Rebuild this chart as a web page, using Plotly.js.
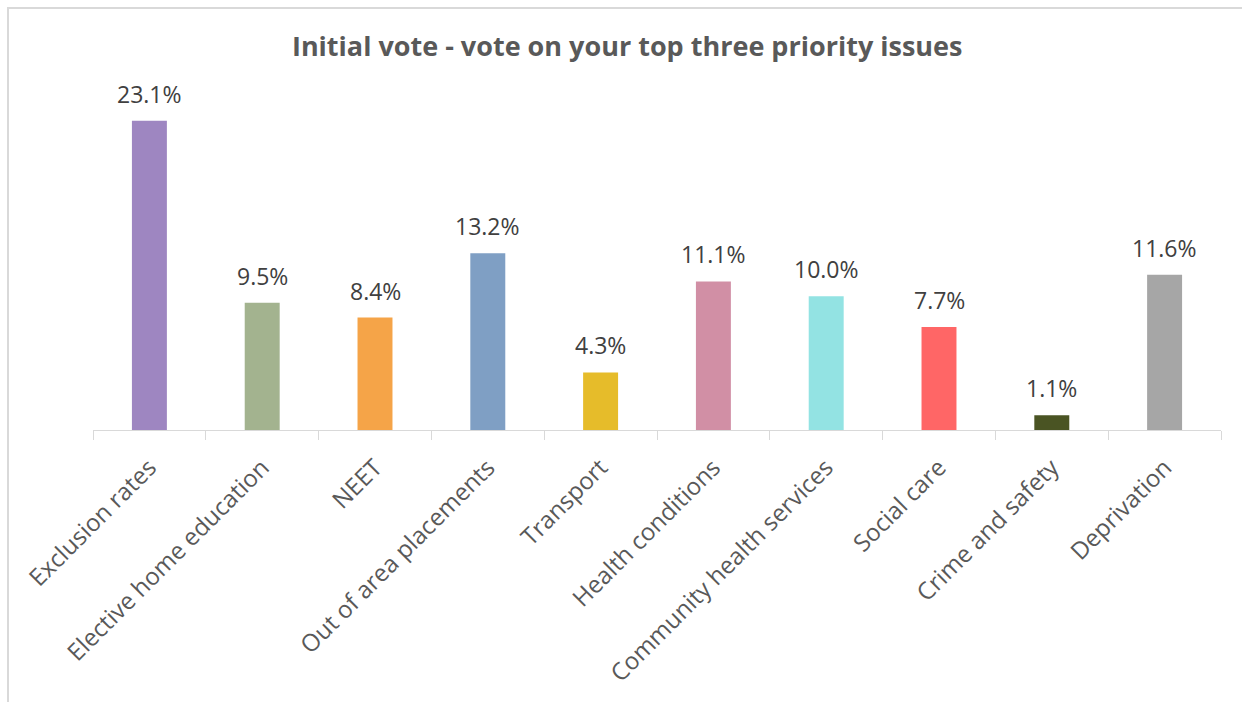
<!DOCTYPE html>
<html>
<head>
<meta charset="utf-8">
<script src="https://cdn.plot.ly/plotly-3.0.1.min.js"></script>
<style>
html,body{margin:0;padding:0;background:#fff;}
#chart{width:1242px;height:702px;}
#frame{position:absolute;left:7px;top:7px;width:1300px;height:800px;border-top:2px solid #d9d9d9;border-left:2px solid #d9d9d9;pointer-events:none;}
</style>
</head>
<body>
<div id="chart"></div>
<div id="frame"></div>
<script>
const categories = ["Exclusion rates","Elective home education","NEET","Out of area placements","Transport","Health conditions","Community health services","Social care","Crime and safety","Deprivation"];
const values = [23.1, 9.5, 8.4, 13.2, 4.3, 11.1, 10.0, 7.7, 1.1, 11.6];
const colors = ["#9E86C1","#A3B38F","#F5A448","#7F9FC4","#E6BC2A","#D18FA5","#93E3E3","#FF6666","#4A5423","#A6A6A6"];

const FONT = "'Open Sans', 'Noto Sans', sans-serif";

const trace = {
  type: "bar",
  x: categories,
  y: values,
  marker: {color: colors},
  width: 0.31,
  cliponaxis: false,
  hoverinfo: "skip"
};

const annotations = categories.map((c, i) => ({
  x: c, y: values[i], xref: "x", yref: "y",
  text: values[i].toFixed(1) + "%",
  showarrow: false, xanchor: "center", yanchor: "bottom", yshift: 9,
  font: {family: FONT, size: 23, color: "#404040"}
}));

const layout = {
  width: 1242, height: 702,
  margin: {l: 93, r: 21, t: 70, b: 272},
  paper_bgcolor: "#fff", plot_bgcolor: "#fff",
  title: {text: "<b>Initial vote - vote on your top three priority issues</b>", x: 0.505, xanchor: "center", y: 0.933, yanchor: "middle",
          font: {family: FONT, size: 27, color: "#595959"}},
  showlegend: false,
  annotations: annotations,
  xaxis: {
    type: "category",
    range: [-0.5, 9.5],
    tickangle: -45,
    tickson: "boundaries",
    ticks: "outside", ticklen: 9, tickcolor: "#d9d9d9", tickwidth: 1,
    ticklabelstandoff: 13,
    showline: true, linecolor: "#d9d9d9", linewidth: 1,
    tickfont: {family: FONT, size: 24, color: "#595959"},
    showgrid: false, zeroline: false, fixedrange: true
  },
  yaxis: {
    range: [0, 26.9],
    visible: false, showgrid: false, zeroline: false, fixedrange: true
  }
};

Plotly.newPlot("chart", [trace], layout, {displayModeBar: false, staticPlot: true});
</script>
</body>
</html>
